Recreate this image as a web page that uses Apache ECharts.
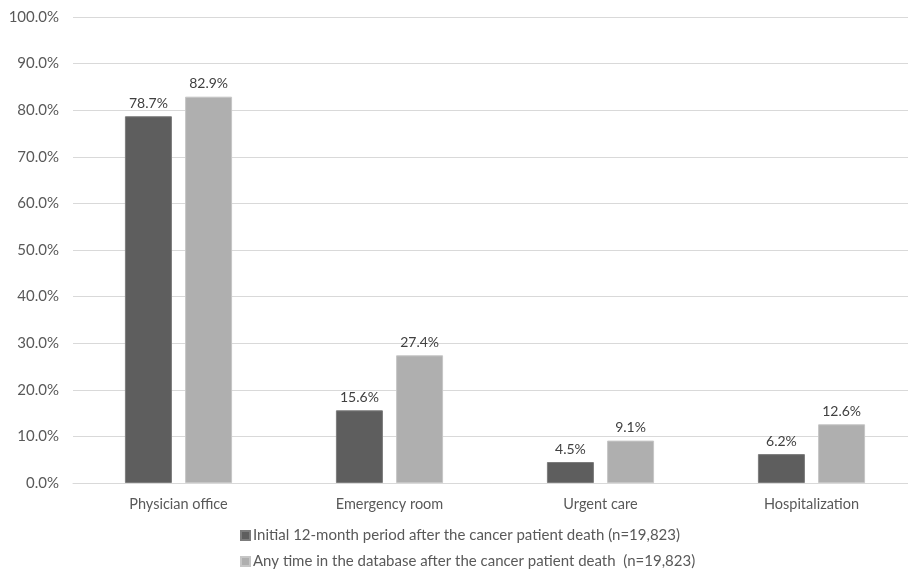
<!DOCTYPE html>
<html>
<head>
<meta charset="utf-8">
<script src="https://cdn.jsdelivr.net/npm/echarts@6/dist/echarts.min.js"></script>
<style>
  html, body { margin: 0; padding: 0; background: #fff; overflow: hidden; }
  #chart { width: 908px; height: 574px; }
</style>
</head>
<body>
<div id="chart"></div>
<script>
// Care settings visited after the cancer patient's death
const categories = ['Physician office', 'Emergency room', 'Urgent care', 'Hospitalization'];
const seriesNames = [
  'Initial 12-month period after the cancer patient death (n=19,823)',
  'Any time in the database after the cancer patient death  (n=19,823)'
];
const initial12Month = [78.7, 15.6, 4.5, 6.2];
const anyTime = [82.9, 27.4, 9.1, 12.6];
const yTicks = [0, 10, 20, 30, 40, 50, 60, 70, 80, 90, 100];

const FONT = 'Lato';
const TEXT = '#595959';

const chart = echarts.init(document.getElementById('chart'), null, { renderer: 'canvas' });

function barSeries(name, data, fill, edge) {
  return {
    name: name,
    type: 'bar',
    data: data,
    barWidth: 47,
    barGap: '28%',
    itemStyle: { color: fill, borderColor: edge, borderWidth: 1 },
    label: {
      show: true,
      position: 'top',
      distance: 6,
      color: '#404040',
      fontFamily: FONT,
      fontSize: 14,
      formatter: p => p.value.toFixed(1) + '%'
    }
  };
}

chart.setOption({
  animation: false,
  textStyle: { fontFamily: FONT },
  // the plot runs a little past the right edge of the canvas
  grid: {
    left: 73, width: 844, top: 17, bottom: 91,
    containLabel: false,
    outerBoundsMode: 'none'
  },
  xAxis: {
    type: 'category',
    data: categories,
    axisLine: { show: true, lineStyle: { color: '#d9d9d9', width: 1 } },
    axisTick: { show: false },
    axisLabel: { color: TEXT, fontFamily: FONT, fontSize: 14.5, margin: 14 }
  },
  yAxis: {
    type: 'value',
    min: yTicks[0],
    max: yTicks[yTicks.length - 1],
    interval: yTicks[1] - yTicks[0],
    axisLine: { show: false },
    axisTick: { show: false },
    splitLine: { lineStyle: { color: '#d9d9d9', width: 1 } },
    axisLabel: {
      color: TEXT,
      fontFamily: FONT,
      fontSize: 15,
      margin: 14,
      formatter: v => v.toFixed(1) + '%'
    }
  },
  legend: {
    orient: 'vertical',
    left: 235,
    top: 523,
    itemWidth: 9,
    itemHeight: 9,
    itemGap: 11,
    icon: 'rect',
    textStyle: { color: TEXT, fontFamily: FONT, fontSize: 15, padding: [0, 0, 0, -2] },
    data: seriesNames
  },
  series: [
    barSeries(seriesNames[0], initial12Month, '#5e5e5e', '#7c7c7c'),
    barSeries(seriesNames[1], anyTime, '#afafaf', '#c6c6c6')
  ]
});
</script>
</body>
</html>
